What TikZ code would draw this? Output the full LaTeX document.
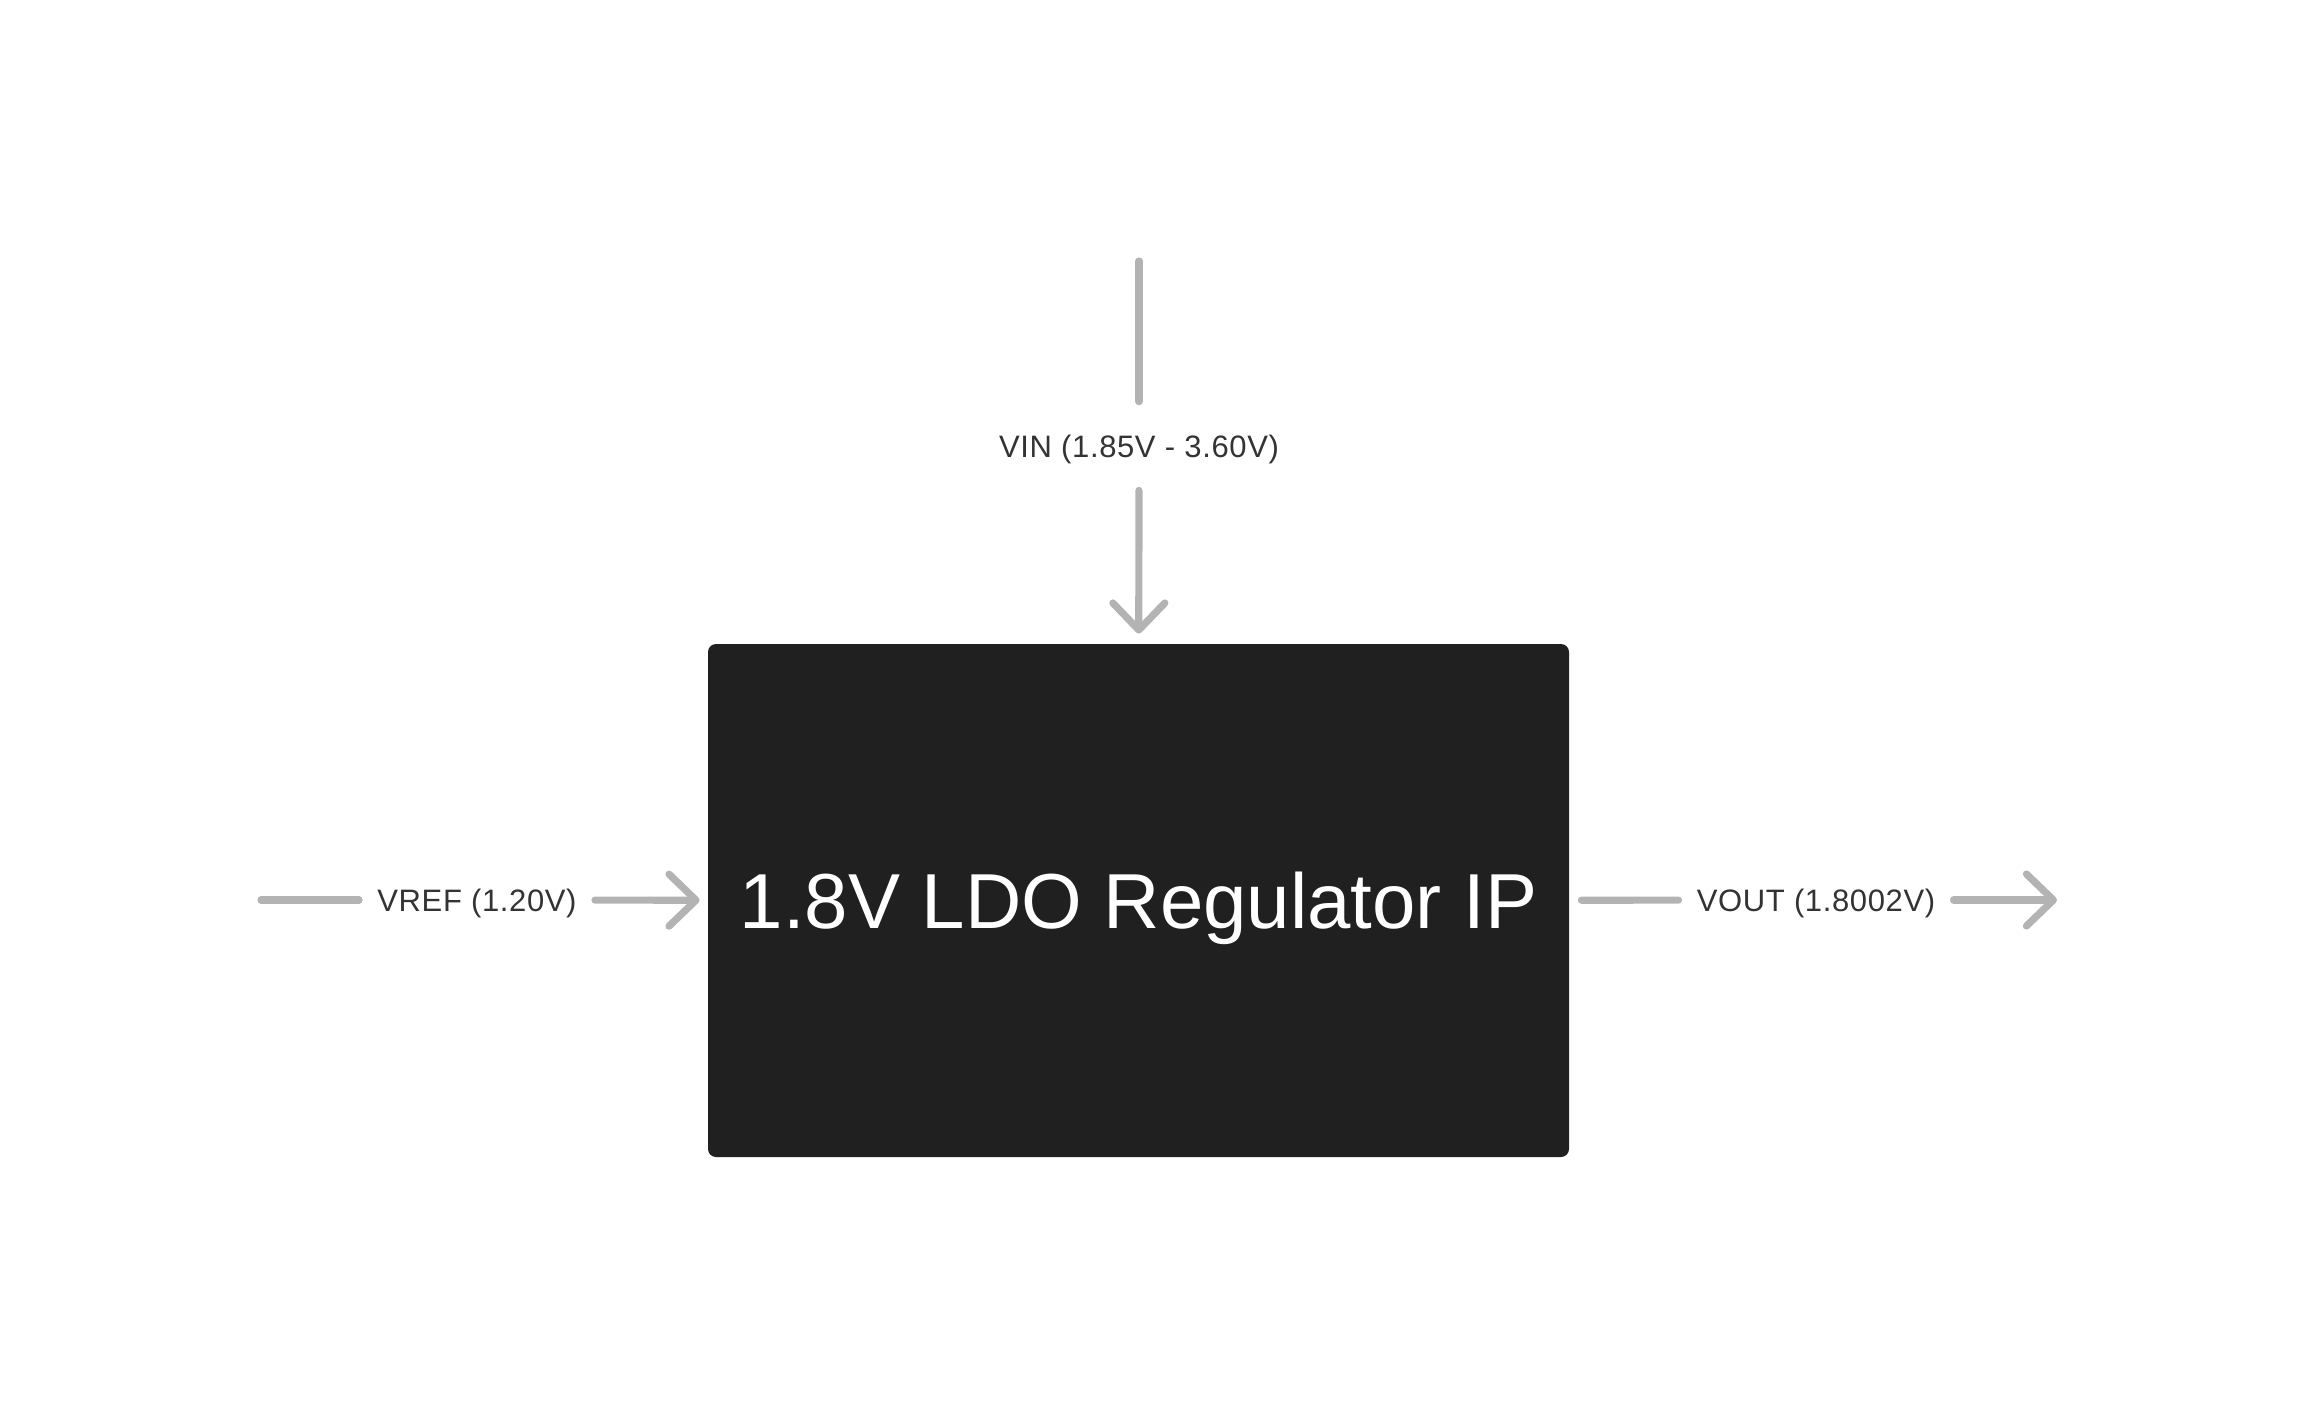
\documentclass[tikz,border=0pt]{standalone}
\usepackage{fontspec}
\setmainfont{Liberation Sans}
\usetikzlibrary{arrows.meta}
\definecolor{boxfill}{HTML}{202020}
\definecolor{wirec}{HTML}{B3B3B3}
\definecolor{lblc}{HTML}{333333}
\begin{document}
\begin{tikzpicture}[x=0.5pt,y=-0.5pt,
  wire/.style={draw=wirec, line width=3.6pt, line cap=round},
  tip/.style={-{Straight Barb[length=13.5pt,width=26pt,line width=3.6pt,round]}},
  lblnode/.style={text=lblc, font=\fontsize{15.5pt}{17pt}\selectfont\addfontfeature{LetterSpace=2}, inner ysep=0pt, inner xsep=9pt, text height=11pt, text depth=0pt}]
\path[use as bounding box] (0,0) rectangle (2312,1414);
\node[fill=boxfill, rounded corners=4pt, minimum width=430.5pt, minimum height=256.5pt, inner sep=0pt,
      text=white, font=\fontsize{39pt}{44pt}\selectfont, text height=28pt, text depth=0pt] (ldo) at (1138.5,900.5) {1.8V LDO Regulator IP};
% VIN
\coordinate (vinsrc) at (1139,261);
\node[lblnode, inner xsep=0pt, minimum height=44pt] (vinlbl) at (1139,446) {VIN (1.85V - 3.60V)};
\draw[wire] (vinsrc) -- (vinlbl);
\draw[wire, tip, shorten >=5pt] (vinlbl) -- (ldo);
% VREF
\coordinate (vrefsrc) at (261,900);
\node[lblnode] (vreflbl) at (477,900) {VREF (1.20V)};
\draw[wire] (vrefsrc) -- (vreflbl);
\draw[wire, tip, shorten >=4pt] (vreflbl) -- (ldo);
% VOUT
\node[lblnode] (voutlbl) at (1816,900) {VOUT (1.8002V)};
\coordinate (voutdst) at (2057,900);
\draw[wire, shorten <=6pt] (ldo) -- (voutlbl);
\draw[wire, tip] (voutlbl) -- (voutdst);
\end{tikzpicture}
\end{document}
